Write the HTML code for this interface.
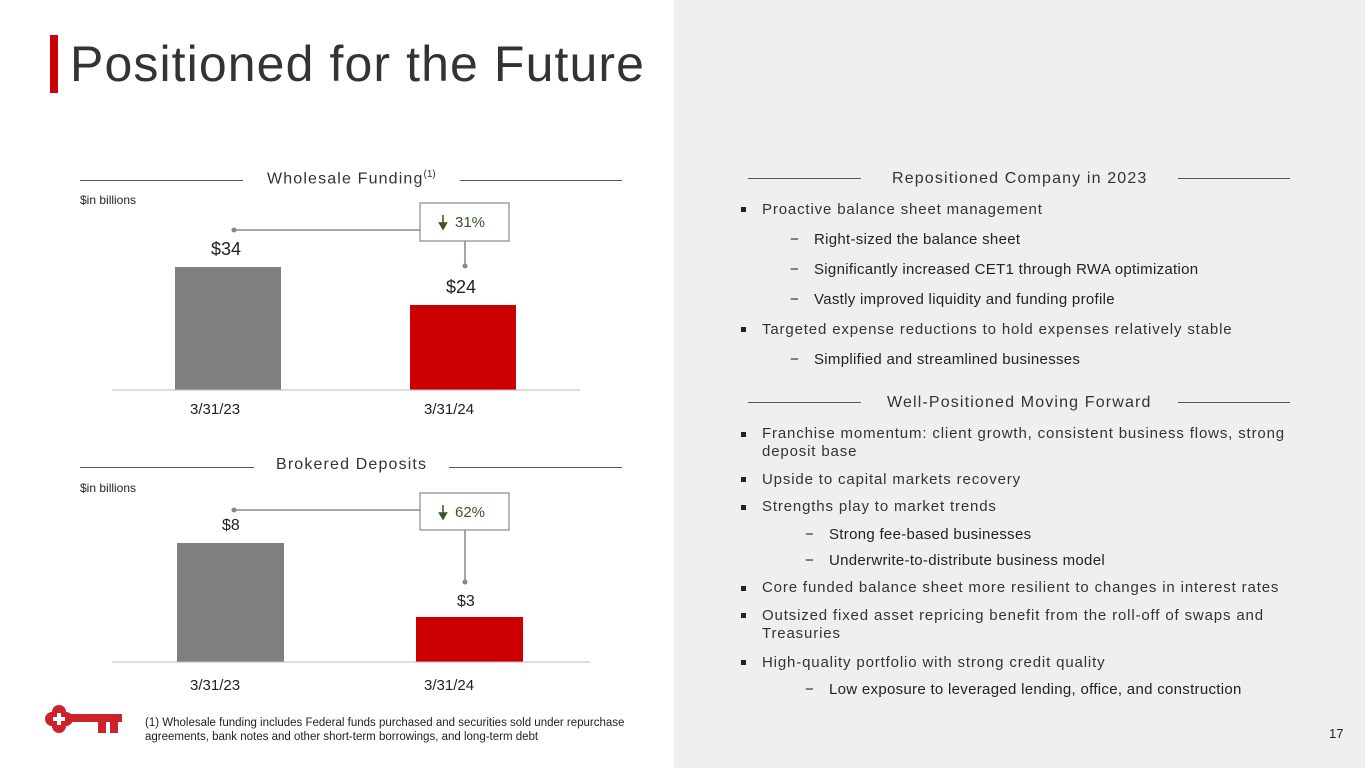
<!DOCTYPE html><html><head><style>
body{margin:0;width:1365px;height:768px;position:relative;background:#fff;font-family:"Liberation Sans",sans-serif;overflow:hidden;color:#222}
.a{position:absolute;white-space:nowrap}
.r{position:absolute;left:674px;top:0;width:691px;height:768px;background:#efefef}
.hl{position:absolute;height:1px;background:#555}
.sq{position:absolute;width:5px;height:5px;background:#222}
.b{font-size:15px;color:#333;letter-spacing:.85px}
.s{font-size:15px;color:#222;letter-spacing:.3px}
.h{font-size:16px;color:#333;letter-spacing:1.15px}
.d{display:inline-block;width:24px;letter-spacing:0}
</style></head><body>
<div class="r"></div>
<div class="a" style="left:50px;top:35px;width:8px;height:58px;background:#cc0000"></div>
<div class="a" style="left:70px;top:35px;font-size:50px;color:#333;letter-spacing:1.1px">Positioned for the Future</div>

<div class="hl" style="left:80px;top:180px;width:163px"></div>
<div class="hl" style="left:460px;top:180px;width:162px"></div>
<div class="a h" style="left:267px;top:169px">Wholesale Funding<sup style="font-size:10px;letter-spacing:0">(1)</sup></div>
<div class="a" style="left:80px;top:193px;font-size:12px">$in billions</div>
<svg class="a" style="left:0;top:0" width="674" height="768">
<rect x="175" y="267" width="106" height="123" fill="#7f7f7f"/>
<rect x="410" y="305" width="106" height="85" fill="#cc0000"/>
<line x1="112" y1="390" x2="580" y2="390" stroke="#bbb"/>
<line x1="234" y1="230" x2="420" y2="230" stroke="#888" stroke-width="1.5"/>
<circle cx="234" cy="230" r="2.5" fill="#888"/>
<line x1="465" y1="241" x2="465" y2="266" stroke="#888" stroke-width="1.5"/>
<circle cx="465" cy="266" r="2.5" fill="#888"/>
<rect x="420" y="203" width="89" height="38" fill="#fff" stroke="#888" stroke-width="1.2"/>
<path d="M443 215v11M439.5 223l3.5 6 3.5-6z" stroke="#375623" fill="#375623" stroke-width="1.5"/>

<rect x="177" y="543" width="107" height="119" fill="#7f7f7f"/>
<rect x="416" y="617" width="107" height="45" fill="#cc0000"/>
<line x1="112" y1="662" x2="590" y2="662" stroke="#bbb"/>
<line x1="234" y1="510" x2="420" y2="510" stroke="#888" stroke-width="1.5"/>
<circle cx="234" cy="510" r="2.5" fill="#888"/>
<line x1="465" y1="530" x2="465" y2="582" stroke="#888" stroke-width="1.5"/>
<circle cx="465" cy="582" r="2.5" fill="#888"/>
<rect x="420" y="493" width="89" height="37" fill="#fff" stroke="#888" stroke-width="1.2"/>
<path d="M443 505v11M439.5 513l3.5 6 3.5-6z" stroke="#375623" fill="#375623" stroke-width="1.5"/>

<g fill="#cc2229">
<circle cx="52" cy="719" r="7"/><circle cx="66" cy="719" r="7"/><circle cx="59" cy="712" r="7"/><circle cx="59" cy="726" r="7"/>
<rect x="66" y="714" width="56" height="8"/><rect x="98" y="720" width="8" height="13"/><rect x="110" y="720" width="8" height="13"/>
</g>
<rect x="57" y="713" width="4" height="12" fill="#fff"/><rect x="53" y="717" width="12" height="4" fill="#fff"/>
</svg>
<div class="a" style="left:455px;top:214px;font-size:15px;color:#375623">31%</div>
<div class="a" style="left:455px;top:504px;font-size:15px;color:#375623">62%</div>
<div class="a" style="left:211px;top:239px;font-size:18px">$34</div>
<div class="a" style="left:446px;top:277px;font-size:18px">$24</div>
<div class="a" style="left:190px;top:401px;font-size:15px">3/31/23</div>
<div class="a" style="left:424px;top:401px;font-size:15px">3/31/24</div>

<div class="hl" style="left:80px;top:467px;width:174px"></div>
<div class="hl" style="left:449px;top:467px;width:173px"></div>
<div class="a h" style="left:276px;top:456px">Brokered Deposits</div>
<div class="a" style="left:80px;top:481px;font-size:12px">$in billions</div>
<div class="a" style="left:222px;top:517px;font-size:16px">$8</div>
<div class="a" style="left:457px;top:593px;font-size:16px">$3</div>
<div class="a" style="left:190px;top:677px;font-size:15px">3/31/23</div>
<div class="a" style="left:424px;top:677px;font-size:15px">3/31/24</div>

<div class="a" style="left:145px;top:716px;font-size:11.5px;line-height:14px">(1) Wholesale funding includes Federal funds purchased and securities sold under repurchase<br>agreements, bank notes and other short-term borrowings, and long-term debt</div>
<div class="a" style="left:1329px;top:726px;font-size:13px">17</div>

<div class="hl" style="left:748px;top:178px;width:113px"></div>
<div class="hl" style="left:1178px;top:178px;width:112px"></div>
<div class="a h" style="left:892px;top:170px">Repositioned Company in 2023</div>
<div class="hl" style="left:748px;top:402px;width:113px"></div>
<div class="hl" style="left:1178px;top:402px;width:112px"></div>
<div class="a h" style="left:887px;top:394px">Well-Positioned Moving Forward</div>

<div class="sq" style="left:741px;top:207px"></div><div class="a b" style="left:762px;top:201px">Proactive balance sheet management</div>
<div class="a s" style="left:790px;top:231px"><span class="d">−</span>Right-sized the balance sheet</div>
<div class="a s" style="left:790px;top:261px"><span class="d">−</span>Significantly increased CET1 through RWA optimization</div>
<div class="a s" style="left:790px;top:291px"><span class="d">−</span>Vastly improved liquidity and funding profile</div>
<div class="sq" style="left:741px;top:327px"></div><div class="a b" style="left:762px;top:321px">Targeted expense reductions to hold expenses relatively stable</div>
<div class="a s" style="left:790px;top:351px"><span class="d">−</span>Simplified and streamlined businesses</div>

<div class="sq" style="left:741px;top:432px"></div><div class="a b" style="left:762px;top:425px;line-height:18px">Franchise momentum: client growth, consistent business flows, strong<br>deposit base</div>
<div class="sq" style="left:741px;top:477px"></div><div class="a b" style="left:762px;top:471px">Upside to capital markets recovery</div>
<div class="sq" style="left:741px;top:505px"></div><div class="a b" style="left:762px;top:498px">Strengths play to market trends</div>
<div class="a s" style="left:805px;top:526px"><span class="d">−</span>Strong fee-based businesses</div>
<div class="a s" style="left:805px;top:552px"><span class="d">−</span>Underwrite-to-distribute business model</div>
<div class="sq" style="left:741px;top:586px"></div><div class="a b" style="left:762px;top:579px">Core funded balance sheet more resilient to changes in interest rates</div>
<div class="sq" style="left:741px;top:613px"></div><div class="a b" style="left:762px;top:607px;line-height:18px">Outsized fixed asset repricing benefit from the roll-off of swaps and<br>Treasuries</div>
<div class="sq" style="left:741px;top:660px"></div><div class="a b" style="left:762px;top:654px">High-quality portfolio with strong credit quality</div>
<div class="a s" style="left:805px;top:681px"><span class="d">−</span>Low exposure to leveraged lending, office, and construction</div>
</body></html>
